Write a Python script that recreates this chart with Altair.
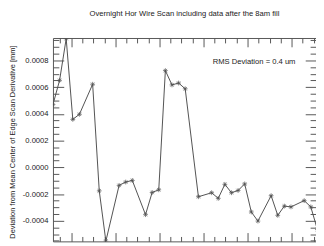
import altair as alt
import pandas as pd

# sample times (hours, 9-minute sampling with some gaps)
hours = [21.585, 21.735, 21.885, 22.035, 22.185, 22.485, 22.635, 22.785,
         23.085, 23.235, 23.385, 23.685, 23.835, 23.985, 24.135, 24.285,
         24.435, 24.585, 24.885, 25.185, 25.335, 25.485, 25.635, 25.785,
         25.935, 26.085, 26.235, 26.535, 26.685, 26.835, 26.985, 27.285,
         27.435, 27.585]
# deviation from mean centre [mm]
deviation = [0.000470, 0.000651, 0.000963, 0.000359, 0.000397, 0.000622,
             -0.000176, -0.000552, -0.000135, -0.000110, -0.000098, -0.000354,
             -0.000188, -0.000168, 0.000724, 0.000617, 0.000631, 0.000588,
             -0.000220, -0.000190, -0.000232, -0.000127, -0.000190, -0.000173,
             -0.000124, -0.000334, -0.000402, -0.000212, -0.000359, -0.000290,
             -0.000296, -0.000249, -0.000296, -0.000466]

x_major = [22, 23, 24, 25, 26, 27]
x_minor = [21.75, 22.25, 22.5, 22.75, 23.25, 23.5, 23.75, 24.25, 24.5, 24.75,
           25.25, 25.5, 25.75, 26.25, 26.5, 26.75, 27.25, 27.5]
y_major = [-0.0004, -0.0002, 0.0, 0.0002, 0.0004, 0.0006, 0.0008]
y_minor = [-0.00055, -0.0005, -0.00045, -0.00035, -0.0003, -0.00025,
           -0.00015, -0.0001, -0.00005, 0.00005, 0.0001, 0.00015,
           0.00025, 0.0003, 0.00035, 0.00045, 0.0005, 0.00055,
           0.00065, 0.0007, 0.00075, 0.00085, 0.0009, 0.00095]

title_text = "Overnight  Hor Wire Scan including data after the 8am fill"
y_title = "Deviation from Mean Center of  Edge Scan Derivative [mm]"
rms_text = "RMS Deviation = 0.4 um"

W, H = 269, 208
FONT = "Liberation Sans"
FS = 7.8
AX = "#555555"
LINE = "#505050"
TXT = "#222222"

df = pd.DataFrame({"hour": hours, "dev": deviation})

xs = alt.Scale(domain=[21.585, 27.553], nice=False, zero=False)
ys = alt.Scale(domain=[-0.000554, 0.000968], nice=False, zero=False)


def tick_axis(orient, values, size, offset):
    return alt.Axis(orient=orient, values=values, tickSize=size, offset=offset,
                    labels=False, domain=False, grid=False, title=None,
                    tickColor=AX, tickWidth=1)


base = alt.Chart(df)

line = base.mark_line(color=LINE, strokeWidth=1, clip=True).encode(
    x=alt.X("hour:Q", scale=xs, axis=tick_axis("top", x_major, 9, -H)),
    y=alt.Y("dev:Q", scale=ys, axis=alt.Axis(
        orient="left", values=y_major, ticks=False, tickSize=0, domain=False,
        grid=False, labelPadding=5, labelFontSize=FS, labelFont=FONT,
        labelColor=TXT,
        labelExpr="datum.value < 0 ? '-' + format(-datum.value, '.4f') : format(datum.value, '.4f')",
        title=y_title, titleFontSize=7.6, titleFont=FONT, titleFontWeight="normal",
        titleColor=TXT, titleAngle=270, titleX=-41, titleY=106,
        titleBaseline="middle", titleAlign="center")),
)

stars = base.mark_point(
    shape="M-1,0L1,0M0,-1L0,1M-0.7,-0.7L0.7,0.7M-0.7,0.7L0.7,-0.7",
    size=24, filled=False, color=LINE, strokeWidth=0.7, opacity=1, clip=True,
).encode(
    x=alt.X("hour:Q", scale=xs, axis=tick_axis("top", x_minor, 5, -H)),
    y=alt.Y("dev:Q", scale=ys, axis=tick_axis("right", y_major, 11, -W)),
)

inv3 = base.mark_point(opacity=0).encode(
    x=alt.X("hour:Q", scale=xs, axis=tick_axis("bottom", x_major, 9, -H)),
    y=alt.Y("dev:Q", scale=ys, axis=tick_axis("right", y_minor, 6, -W)),
)
inv4 = base.mark_point(opacity=0).encode(
    x=alt.X("hour:Q", scale=xs, axis=tick_axis("bottom", x_minor, 5, -H)),
    y=alt.Y("dev:Q", scale=ys, axis=tick_axis("left", y_major, 11, -W)),
)
inv5 = base.mark_point(opacity=0).encode(
    x=alt.X("hour:Q", scale=xs, axis=None),
    y=alt.Y("dev:Q", scale=ys, axis=tick_axis("left", y_minor, 6, -W)),
)

rms = alt.Chart(pd.DataFrame({"t": [rms_text]})).mark_text(
    align="right", baseline="middle", fontSize=FS, font=FONT, color=TXT
).encode(x=alt.value(248), y=alt.value(25), text="t:N")

chart = alt.layer(line, stars, inv3, inv4, inv5, rms).resolve_axis(
    x="independent", y="independent"
).properties(
    width=W, height=H,
    title=alt.TitleParams(title_text, fontSize=FS, font=FONT, fontWeight="normal",
                          color=TXT, anchor="middle", offset=19),
    autosize=alt.AutoSizeParams(type="none"),
    padding={"left": 46, "top": 28, "right": 0, "bottom": 0},
    background="white",
).configure_view(stroke=AX, strokeWidth=1)

chart.save("out.html", embed_options={"renderer": "svg", "actions": False})
